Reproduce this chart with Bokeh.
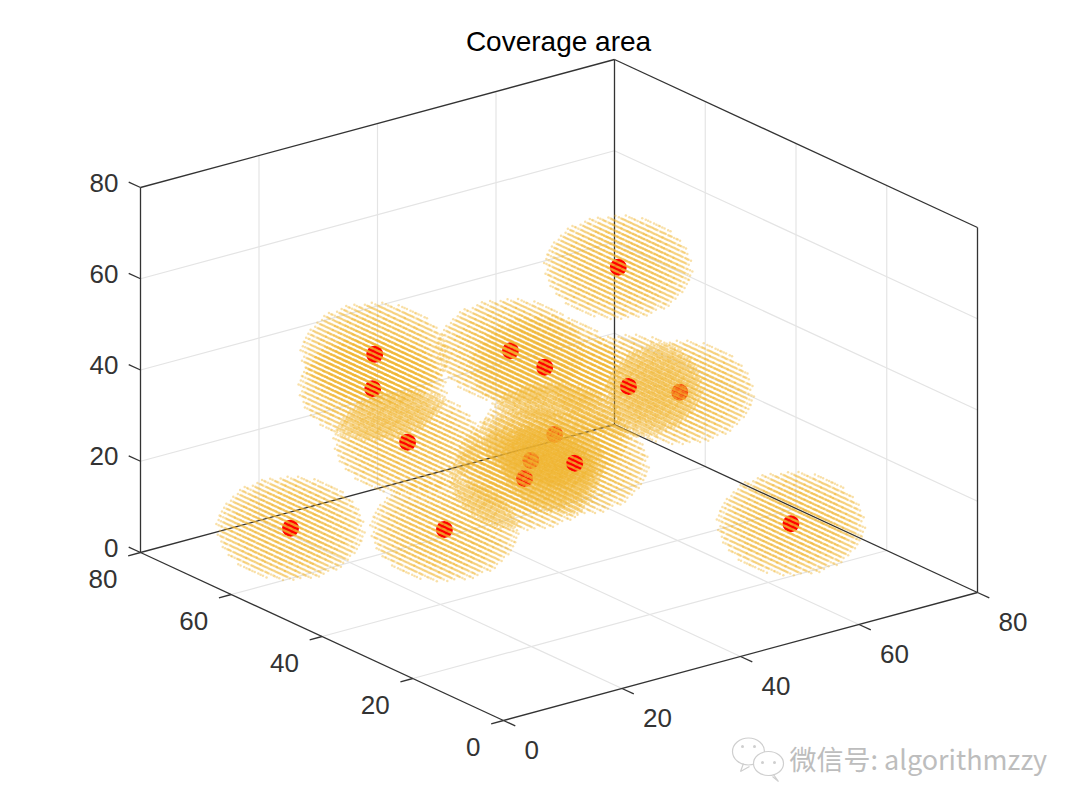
from bokeh.plotting import figure
from bokeh.embed import file_html
from bokeh.resources import INLINE
from bokeh.core.properties import value
import numpy as np

# sensor positions (x, y, z), listed in painting order
sensor_x = [40.0, 30.0, 50.0, 40.0, 60.0, 60.0, 50.0, 40.0, 50.0, 20.0, 20.0, 50.0, 10.0, 30.0, 60.0]
sensor_y = [50.7, 68.0, 54.0, 46.2, 39.5, 50.8, 56.2, 47.6, 49.6, 54.5, 47.25, 40.0, 60.0, 52.2, 15.0]
sensor_z = [43.7, 30.9, 20.3, 21.7, 32.7, 28.8, 34.0, 17.1, 16.0, 48.15, 32.2, 63.4, 11.0, 7.3, 15.2]
coverage_radius = 10
ticks = [0, 20, 40, 60, 80]
tick_labels = ["0", "20", "40", "60", "80"]
title_text = "Coverage area"
watermark = "微信号: algorithmzzy"

DARK = "#333333"
GRID = "#e4e4e4"
ORIGIN = np.array([503.0, 720.0])
EX = np.array([474.0, -128.0]) / 80
EY = np.array([-363.0, -168.0]) / 80
EZ = np.array([0.0, -365.0]) / 80


def proj(x, y, z):
    x, y, z = np.asarray(x, float), np.asarray(y, float), np.asarray(z, float)
    return ORIGIN[0] + x * EX[0] + y * EY[0] + z * EZ[0], ORIGIN[1] + x * EX[1] + y * EY[1] + z * EZ[1]


p = figure(width=1064, height=794, x_range=(0, 1064), y_range=(794, 0),
           output_backend="svg", toolbar_location=None, min_border=0,
           outline_line_color=None, background_fill_color="white")
p.axis.visible = False
p.grid.visible = False


def seg(a, b, color, width=1.0):
    xa, ya = proj(*a)
    xb, yb = proj(*b)
    p.line([float(xa), float(xb)], [float(ya), float(yb)], line_color=color, line_width=width)


# grid lines on the floor and the two back walls
for t in ticks[1:-1]:
    seg((t, 0, 0), (t, 80, 0), GRID, 1.2)
    seg((0, t, 0), (80, t, 0), GRID, 1.2)
    seg((t, 80, 0), (t, 80, 80), GRID, 1.2)
    seg((80, t, 0), (80, t, 80), GRID, 1.2)
    seg((0, 80, t), (80, 80, t), GRID, 1.2)
    seg((80, 0, t), (80, 80, t), GRID, 1.2)

# box
for a, b in [((0, 0, 0), (80, 0, 0)), ((0, 0, 0), (0, 80, 0)), ((0, 80, 0), (80, 80, 0)),
             ((80, 0, 0), (80, 80, 0)), ((0, 80, 0), (0, 80, 80)), ((80, 80, 0), (80, 80, 80)),
             ((80, 0, 0), (80, 0, 80)), ((0, 80, 80), (80, 80, 80)), ((80, 0, 80), (80, 80, 80))]:
    seg(a, b, DARK, 1.3)

# ticks
L = 2.6
for t in ticks:
    seg((t, 0, 0), (t, -L, 0), DARK, 1.3)
    seg((0, t, 0), (-L * 0.8, t, 0), DARK, 1.3)
    seg((0, 80, t), (0, 80 + L, t), DARK, 1.3)

font = value("Liberation Sans")
fs = "26px"
tx, ty = proj(ticks, [0] * 5, [0] * 5)
p.text(tx.tolist(), ty.tolist(), text=tick_labels, text_font=font, text_font_size=fs, text_color=DARK,
       text_align="left", text_baseline="middle", x_offset=21, y_offset=29)
tx, ty = proj([0] * 5, ticks, [0] * 5)
p.text(tx.tolist(), ty.tolist(), text=tick_labels, text_font=font, text_font_size=fs, text_color=DARK,
       text_align="right", text_baseline="middle", x_offset=-23, y_offset=26)
tx, ty = proj([0] * 5, [80] * 5, ticks)
p.text(tx.tolist(), ty.tolist(), text=tick_labels, text_font=font, text_font_size=fs, text_color=DARK,
       text_align="right", text_baseline="middle", x_offset=-22, y_offset=-5)
p.text([558], [41], text=[title_text], text_font=font, text_font_size="28px", text_color="black",
       text_align="center", text_baseline="middle")

# spheres: a lattice inside the coverage radius whose rows project onto parallel stripes;
# rows are staggered along y so that the points spread evenly along each stripe
r = coverage_radius
ii, kk, jj = np.meshgrid(np.arange(-9, 10), np.arange(-8, 9), np.arange(-9, 10), indexing="ij")
ii, kk, jj = ii.ravel(), kk.ravel(), jj.ravel()
dx = ii * 1.155
dz = jj * 1.1
dy = (kk + (ii * 0.382 + jj * 0.618) % 1 - 0.5) * 1.3
keep = dx ** 2 + dy ** 2 + dz ** 2 <= r ** 2
dx, dy, dz = dx[keep], dy[keep], dz[keep]

for sx, sy, sz in zip(sensor_x, sensor_y, sensor_z):
    cx, cy = proj(sx, sy, sz)
    p.scatter([float(cx)], [float(cy)], size=17, fill_color="#ff0000", line_color=None)
    px, py = proj(sx + dx, sy + dy, sz + dz)
    p.scatter(px.tolist(), py.tolist(), size=2.5, fill_color="#F0B430", fill_alpha=0.42, line_color=None)

# watermark
mark = "#cfcfcf"
p.ellipse([748, 768], [751, 763], width=[32, 30], height=[27, 24], fill_color="white",
          line_color=mark, line_width=1.2)
p.scatter([742, 754, 762, 774], [746, 746, 762, 762], size=3, fill_color=mark, line_color=None)
p.line([743, 740, 749], [763, 771, 766], line_color=mark, line_width=1.2)
p.line([773, 778, 772], [774, 781, 776], line_color=mark, line_width=1.2)
p.text([789], [758], text=[watermark], text_font=value("Noto Sans CJK SC"), text_font_size="27px",
       text_color="#bdbdbd", text_align="left", text_baseline="middle")

open("out.html", "w").write(file_html(p, INLINE))
